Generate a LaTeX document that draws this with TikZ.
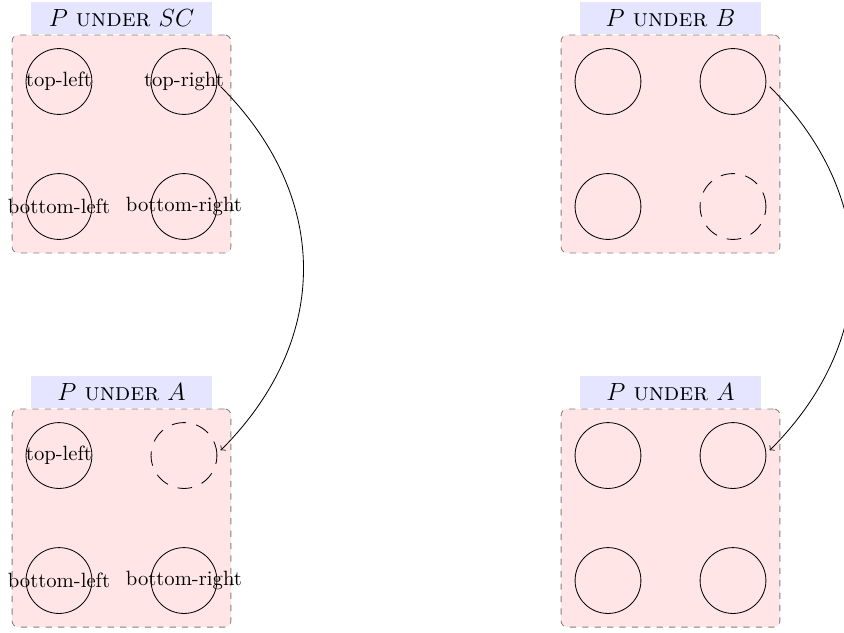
\documentclass[tikz,border=0pt]{standalone}
\usetikzlibrary{calc,positioning}

\tikzset{
  panel/.style={draw=gray, dashed, fill=red!10, rounded corners=3pt,
    minimum width=3.72cm, minimum height=3.71cm},
  paneltitle/.style={fill=blue!10, font=\large, minimum width=3.08cm, minimum height=0.54cm, inner sep=0pt},
  spot/.style={draw, circle, minimum size=1.12cm, inner sep=0pt, outer sep=2pt},
  gone/.style={spot, dash pattern=on 7pt off 5pt},
}

\begin{document}
\begin{tikzpicture}
		\useasboundingbox (0,0) rectangle (14.354,-10.765);

		% the four panels with their titles
		\node[panel] (p1) at ( 2.066,-2.449) {};
		\node[panel] (p2) at (11.403,-2.449) {};
		\node[panel] (p3) at ( 2.066,-8.810) {};
		\node[panel] (p4) at (11.403,-8.810) {};

		\node[paneltitle, above=0pt of p1] (t1) {$P$ \textsc{under} $SC$};
		\node[paneltitle, above=0pt of p2] (t2) {$P$ \textsc{under} $B$};
		\node[paneltitle, above=0pt of p3] (t3) {$P$ \textsc{under} $A$};
		\node[paneltitle, above=0pt of p4] (t4) {$P$ \textsc{under} $A$};

		% P under SC
		\node[spot, label=center:top-left]     (tl1) at ($(p1)+(-1.063, 1.063)$) {};
		\node[spot, label=center:top-right]    (tr1) at ($(p1)+( 1.063, 1.063)$) {};
		\node[spot, label=center:bottom-left]  (bl1) at ($(p1)+(-1.063,-1.063)$) {};
		\node[spot, label=center:bottom-right] (br1) at ($(p1)+( 1.063,-1.063)$) {};

		% P under B
		\node[spot] (tl2) at ($(p2)+(-1.063, 1.063)$) {};
		\node[spot] (tr2) at ($(p2)+( 1.063, 1.063)$) {};
		\node[spot] (bl2) at ($(p2)+(-1.063,-1.063)$) {};
		\node[gone] (br2) at ($(p2)+( 1.063,-1.063)$) {};

		% P under A (left)
		\node[spot, label=center:top-left]     (tl3) at ($(p3)+(-1.063, 1.063)$) {};
		\node[gone]                            (tr3) at ($(p3)+( 1.063, 1.063)$) {};
		\node[spot, label=center:bottom-left]  (bl3) at ($(p3)+(-1.063,-1.063)$) {};
		\node[spot, label=center:bottom-right] (br3) at ($(p3)+( 1.063,-1.063)$) {};

		% P under A (right)
		\node[spot] (tl4) at ($(p4)+(-1.063, 1.063)$) {};
		\node[spot] (tr4) at ($(p4)+( 1.063, 1.063)$) {};
		\node[spot] (bl4) at ($(p4)+(-1.063,-1.063)$) {};
		\node[spot] (br4) at ($(p4)+( 1.063,-1.063)$) {};

		\draw[->] (tr1.-8) to[out=-45, in=45, looseness=1.1] (tr3.8);
		\draw[->] (tr2.-8) to[out=-45, in=45, looseness=1.1] (tr4.8);

	\end{tikzpicture}
\end{document}
